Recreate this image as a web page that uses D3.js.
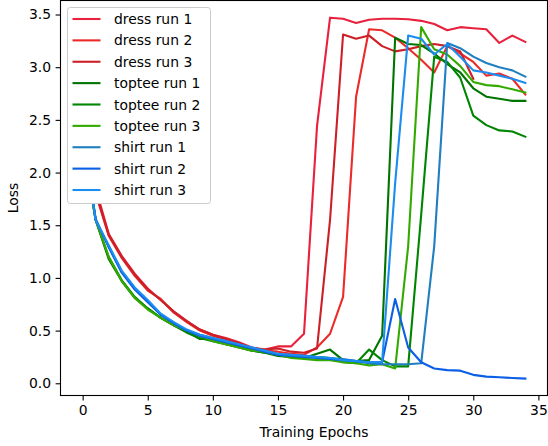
<!DOCTYPE html>
<html>
<head>
<meta charset="utf-8">
<script src="https://cdn.jsdelivr.net/npm/d3@7"></script>
<style>
  body { margin: 0; background: #fff; }
  svg { display: block; font-family: "DejaVu Sans", sans-serif; }
</style>
</head>
<body>
<svg id="chart" width="548" height="446"></svg>
<script>
"use strict";

var epochs = d3.range(0, 35);

var dress1 = [2.5, 1.85, 1.42, 1.21, 1.04, 0.90, 0.79, 0.68, 0.59, 0.51, 0.46, 0.43, 0.39, 0.34, 0.32, 0.35, 0.35, 0.47, 2.44, 3.47,
  3.46, 3.42, 3.45, 3.46, 3.46, 3.455, 3.44, 3.41, 3.35, 3.38, 3.37, 3.36, 3.23, 3.30, 3.24];
var dress2 = [2.45, 1.8, 1.40, 1.19, 1.02, 0.88, 0.80, 0.67, 0.58, 0.50, 0.45, 0.42, 0.38, 0.33, 0.31, 0.30, 0.28, 0.27, 0.34, 0.47,
  0.82, 2.72, 3.36, 3.35, 3.28, 3.18, 3.07, 2.95, 3.20, 3.13, 3.05, 2.92, 2.94, 2.89, 2.74];
// this run stops at epoch 30
var dress3 = [2.45, 1.82, 1.41, 1.20, 1.03, 0.89, 0.79, 0.68, 0.59, 0.51, 0.46, 0.42, 0.38, 0.33, 0.32, 0.33, 0.30, 0.29, 0.33, 1.55,
  3.31, 3.27, 3.30, 3.20, 3.15, 3.17, 3.20, 3.22, 3.20, 3.15, 2.89];
var toptee1 = [2.3, 1.55, 1.18, 0.97, 0.81, 0.71, 0.62, 0.55, 0.49, 0.42, 0.42, 0.37, 0.35, 0.31, 0.29, 0.26, 0.25, 0.24, 0.28, 0.32,
  0.22, 0.21, 0.22, 0.45, 3.28, 3.22, 3.21, 3.13, 3.03, 2.95, 2.80, 2.72, 2.70, 2.68, 2.68];
var toptee2 = [2.3, 1.55, 1.20, 0.98, 0.82, 0.71, 0.62, 0.55, 0.48, 0.43, 0.40, 0.37, 0.34, 0.31, 0.29, 0.27, 0.25, 0.24, 0.25, 0.24,
  0.20, 0.19, 0.32, 0.22, 0.16, 0.16, 1.6, 3.10, 3.05, 2.90, 2.54, 2.45, 2.40, 2.39, 2.34];
var toptee3 = [2.3, 1.55, 1.20, 0.97, 0.81, 0.70, 0.62, 0.55, 0.50, 0.45, 0.40, 0.37, 0.34, 0.31, 0.30, 0.27, 0.24, 0.23, 0.22, 0.22,
  0.20, 0.19, 0.17, 0.18, 0.14, 1.3, 3.38, 3.17, 3.12, 3.01, 2.86, 2.83, 2.82, 2.79, 2.76];
var shirt1 = [2.4, 1.55, 1.30, 1.06, 0.90, 0.78, 0.65, 0.57, 0.50, 0.46, 0.43, 0.40, 0.36, 0.34, 0.30, 0.27, 0.27, 0.26, 0.25, 0.24,
  0.23, 0.21, 0.19, 0.18, 0.18, 0.18, 0.19, 1.3, 3.23, 3.18, 3.10, 3.04, 3.00, 2.97, 2.91];
var shirt2 = [2.4, 1.56, 1.29, 1.05, 0.89, 0.77, 0.65, 0.57, 0.50, 0.45, 0.42, 0.39, 0.36, 0.33, 0.30, 0.27, 0.26, 0.25, 0.24, 0.23,
  0.22, 0.21, 0.20, 0.20, 0.80, 0.34, 0.20, 0.14, 0.125, 0.12, 0.08, 0.063, 0.057, 0.05, 0.045];
var shirt3 = [2.4, 1.55, 1.31, 1.07, 0.91, 0.79, 0.66, 0.58, 0.51, 0.46, 0.43, 0.40, 0.37, 0.34, 0.31, 0.28, 0.27, 0.26, 0.25, 0.24,
  0.22, 0.21, 0.20, 0.20, 1.9, 3.30, 3.27, 3.12, 3.22, 3.10, 2.97, 2.95, 2.92, 2.89, 2.85];

var seriesNames = ["dress run 1", "dress run 2", "dress run 3", "toptee run 1", "toptee run 2", "toptee run 3",
  "shirt run 1", "shirt run 2", "shirt run 3"];
var seriesValues = [dress1, dress2, dress3, toptee1, toptee2, toptee3, shirt1, shirt2, shirt3];
var seriesColors = ["#e8213d", "#ec2a2a", "#cc1f27", "#007400", "#008500", "#33aa00", "#1f7fc0", "#0b5fe6", "#1b8cf0"];

var xTicks = [0, 5, 10, 15, 20, 25, 30, 35];
var yTicks = [0.0, 0.5, 1.0, 1.5, 2.0, 2.5, 3.0, 3.5];

var plotLeft = 60.5, plotRight = 547.5, plotTop = 0.5, plotBottom = 395.5;

var svg = d3.select("#chart");

var x = d3.scaleLinear().domain([-1.7, 35.7]).range([plotLeft, plotRight]);
var y = d3.scaleLinear().domain([-0.116, 3.633]).range([plotBottom, plotTop]);

// lines
var line = d3.line()
  .x(function(d, i) { return x(epochs[i]); })
  .y(function(d) { return y(d); });

svg.append("g")
  .attr("class", "lines")
  .selectAll("path")
  .data(seriesValues)
  .enter()
  .append("path")
  .attr("d", line)
  .attr("fill", "none")
  .attr("stroke", function(d, i) { return seriesColors[i]; })
  .attr("stroke-width", 2.1)
  .attr("stroke-linejoin", "round")
  .attr("stroke-linecap", "square");

// axes
var xAxis = svg.append("g")
  .attr("transform", "translate(0," + plotBottom + ")")
  .call(d3.axisBottom(x).tickValues(xTicks).tickSize(4.9).tickPadding(4.5).tickFormat(d3.format("d")));

var yAxis = svg.append("g")
  .attr("transform", "translate(" + plotLeft + ",0)")
  .call(d3.axisLeft(y).tickValues(yTicks).tickSize(4.9).tickPadding(4.5).tickFormat(d3.format(".1f")));

[xAxis, yAxis].forEach(function(a) {
  a.select(".domain").remove();
  a.selectAll("line").attr("stroke", "#000").attr("stroke-width", 1.1);
  a.selectAll("text").attr("fill", "#000").style("font-size", "13.9px").style("font-family", "DejaVu Sans");
});

svg.append("rect")
  .attr("x", plotLeft)
  .attr("y", plotTop)
  .attr("width", plotRight - plotLeft)
  .attr("height", plotBottom - plotTop)
  .attr("fill", "none")
  .attr("stroke", "#000")
  .attr("stroke-width", 1.1);

svg.append("text")
  .attr("x", (plotLeft + plotRight) / 2 + 10)
  .attr("y", 437)
  .attr("text-anchor", "middle")
  .style("font-size", "13.9px")
  .text("Training Epochs");

svg.append("text")
  .attr("transform", "translate(17.5," + (plotTop + plotBottom) / 2 + ") rotate(-90)")
  .attr("text-anchor", "middle")
  .style("font-size", "13.9px")
  .text("Loss");

// legend
var legend = svg.append("g").attr("class", "legend");

legend.append("rect")
  .attr("x", 67.5)
  .attr("y", 7.5)
  .attr("width", 143)
  .attr("height", 196)
  .attr("rx", 2.8).attr("ry", 2.8)
  .attr("fill", "#fff")
  .attr("stroke", "#cccccc")
  .attr("stroke-width", 1);

var rowY = d3.scaleLinear().domain([0, 8]).range([19, 190]);

var items = legend.selectAll("g.item")
  .data(seriesNames)
  .enter()
  .append("g")
  .attr("class", "item")
  .attr("transform", function(d, i) { return "translate(0," + rowY(i) + ")"; });

items.append("line")
  .attr("x1", 72.5).attr("x2", 100.5)
  .attr("y1", 0).attr("y2", 0)
  .attr("stroke", function(d, i) { return seriesColors[i]; })
  .attr("stroke-width", 2.1);

items.append("text")
  .attr("x", 114)
  .attr("y", 5)
  .style("font-size", "13.9px")
  .text(function(d) { return d; });
</script>
</body>
</html>
